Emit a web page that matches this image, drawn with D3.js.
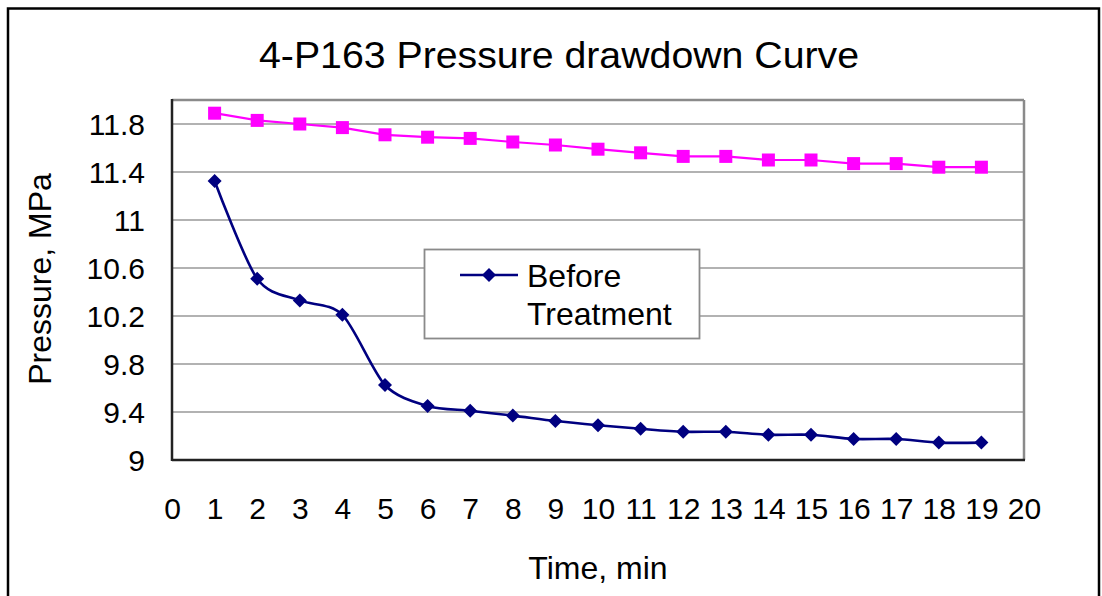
<!DOCTYPE html>
<html>
<head>
<meta charset="utf-8">
<script src="https://cdn.jsdelivr.net/npm/d3@7"></script>
<style>
  html, body { margin: 0; padding: 0; background: #fff; }
  svg { display: block; }
  text { font-family: "Liberation Sans", Arial, sans-serif; fill: #000; }
</style>
</head>
<body>
<svg id="chart" width="1102" height="596"></svg>
<script>
// ---- data ----
const time = [1,2,3,4,5,6,7,8,9,10,11,12,13,14,15,16,17,18,19];
const beforeTreatment = [11.325,10.51,10.33,10.21,9.625,9.45,9.41,9.37,9.325,9.29,9.26,9.235,9.235,9.21,9.21,9.175,9.175,9.145,9.145];
const afterTreatment = [11.89,11.83,11.80,11.77,11.71,11.69,11.68,11.65,11.625,11.59,11.56,11.53,11.53,11.50,11.50,11.47,11.47,11.44,11.44];
const yTicks = [9,9.4,9.8,10.2,10.6,11,11.4,11.8];
const xTicks = [0,1,2,3,4,5,6,7,8,9,10,11,12,13,14,15,16,17,18,19,20];
const titleText = "4-P163 Pressure drawdown Curve";
const xLabel = "Time, min";
const yLabel = "Pressure, MPa";
const legendLabel = ["Before", "Treatment"];

const svg = d3.select("#chart");
const plot = {x0: 172, x1: 1024, y0: 100, y1: 460};

// outer frame
svg.append("rect").attr("x", 8).attr("y", 8.5).attr("width", 1091).attr("height", 600)
  .attr("fill", "#fff").attr("stroke", "#000").attr("stroke-width", 2.5);

const x = d3.scaleLinear().domain([0, 20]).range([plot.x0, plot.x1]);
const y = d3.scaleLinear().domain([9, 12]).range([plot.y1, plot.y0]);

// gridlines
svg.append("g").selectAll("line").data(yTicks.slice(1)).join("line")
  .attr("x1", plot.x0).attr("x2", plot.x1)
  .attr("y1", d => y(d)).attr("y2", d => y(d))
  .attr("stroke", "#999").attr("stroke-width", 1.6);

// plot area border: top/right gray, left/bottom dark
svg.append("line").attr("x1", plot.x0).attr("x2", plot.x1).attr("y1", plot.y0).attr("y2", plot.y0)
  .attr("stroke", "#8a8a8a").attr("stroke-width", 2.5);
svg.append("line").attr("x1", plot.x1).attr("x2", plot.x1).attr("y1", plot.y0).attr("y2", plot.y1)
  .attr("stroke", "#8a8a8a").attr("stroke-width", 2.5);
svg.append("line").attr("x1", plot.x0).attr("x2", plot.x0).attr("y1", plot.y0 - 1).attr("y2", plot.y1 + 1)
  .attr("stroke", "#222").attr("stroke-width", 2.5);
svg.append("line").attr("x1", plot.x0).attr("x2", plot.x1 + 1).attr("y1", plot.y1).attr("y2", plot.y1)
  .attr("stroke", "#222").attr("stroke-width", 2.5);

// y axis labels
const yAxis = d3.axisLeft(y).tickValues(yTicks).tickSize(0).tickPadding(0)
  .tickFormat(d => String(+d.toFixed(1)));
const gy = svg.append("g").attr("transform", `translate(145,0)`).call(yAxis);
gy.select(".domain").remove();
gy.selectAll("text").attr("font-size", 30).attr("font-family", "Liberation Sans, Arial, sans-serif")
  .attr("fill", "#000").attr("dy", "0.36em").attr("text-anchor", "end");

// x axis labels
const xAxis = d3.axisBottom(x).tickValues(xTicks).tickSize(0).tickPadding(0).tickFormat(d3.format("d"));
const gx = svg.append("g").attr("transform", `translate(0,497)`).call(xAxis);
gx.select(".domain").remove();
gx.selectAll("text").attr("font-size", 30).attr("font-family", "Liberation Sans, Arial, sans-serif")
  .attr("fill", "#000").attr("dy", "0.72em");

// series
const ptsB = time.map((t, i) => [t, beforeTreatment[i]]);
const ptsA = time.map((t, i) => [t, afterTreatment[i]]);

const lineSmooth = d3.line().x(d => x(d[0])).y(d => y(d[1])).curve(d3.curveCardinal.tension(0.15));
const lineStraight = d3.line().x(d => x(d[0])).y(d => y(d[1]));

svg.append("path").datum(ptsA).attr("d", lineStraight)
  .attr("fill", "none").attr("stroke", "#ff00ff").attr("stroke-width", 2.2);
svg.append("g").selectAll("rect").data(ptsA).join("rect")
  .attr("x", d => x(d[0]) - 6.5).attr("y", d => y(d[1]) - 6.5)
  .attr("width", 13).attr("height", 13).attr("fill", "#ff00ff");

svg.append("path").datum(ptsB).attr("d", lineSmooth)
  .attr("fill", "none").attr("stroke", "#000080").attr("stroke-width", 2.6);
const diamond = s => `M0,${-s}L${s},0L0,${s}L${-s},0Z`;
svg.append("g").selectAll("path").data(ptsB).join("path")
  .attr("transform", d => `translate(${x(d[0])},${y(d[1])})`)
  .attr("d", diamond(7)).attr("fill", "#000080");

// legend
const lg = svg.append("g");
lg.append("rect").attr("x", 424.5).attr("y", 249.5).attr("width", 275).attr("height", 89)
  .attr("fill", "#fff").attr("stroke", "#8a8a8a").attr("stroke-width", 1.8);
lg.append("line").attr("x1", 460).attr("x2", 518).attr("y1", 275).attr("y2", 275)
  .attr("stroke", "#000080").attr("stroke-width", 2.6);
lg.append("path").attr("transform", "translate(489,275)").attr("d", diamond(7)).attr("fill", "#000080");
lg.append("text").attr("x", 527).attr("y", 287).attr("font-size", 32).text(legendLabel[0]);
lg.append("text").attr("x", 527).attr("y", 325).attr("font-size", 32).text(legendLabel[1]);

// title
svg.append("text").attr("x", 559).attr("y", 68).attr("text-anchor", "middle")
  .attr("font-size", 36).attr("textLength", 600).attr("lengthAdjust", "spacingAndGlyphs")
  .text(titleText);

// axis titles
svg.append("text").attr("x", 598).attr("y", 579).attr("text-anchor", "middle")
  .attr("font-size", 32).text(xLabel);
svg.append("text").attr("transform", "translate(51,279) rotate(-90)").attr("text-anchor", "middle")
  .attr("font-size", 32).text(yLabel);
</script>
</body>
</html>
